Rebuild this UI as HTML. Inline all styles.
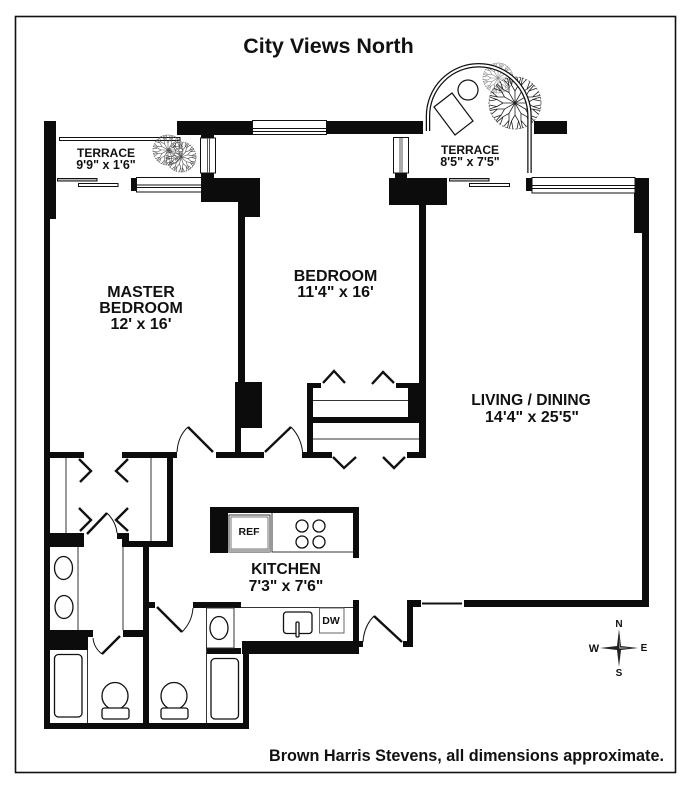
<!DOCTYPE html>
<html><head><meta charset="utf-8"><style>
html,body{margin:0;padding:0;background:#fff}
svg{display:block}
text{font-family:"Liberation Sans",sans-serif;font-weight:bold;fill:#111;text-anchor:middle}
</style></head><body>
<svg width="694" height="795" viewBox="0 0 694 795" xmlns="http://www.w3.org/2000/svg">
<defs>
<path id="sp" d="M0 0L0 -12L-3.500 -18L-6 -25.500M-3.500 -18L-2 -26M0 -12L3.500 -18L2 -26M3.500 -18L6 -25.500"/>
<g id="tree">
<use href="#sp"/><use href="#sp" transform="rotate(30)"/><use href="#sp" transform="rotate(60)"/><use href="#sp" transform="rotate(90)"/><use href="#sp" transform="rotate(120)"/><use href="#sp" transform="rotate(150)"/><use href="#sp" transform="rotate(180)"/><use href="#sp" transform="rotate(210)"/><use href="#sp" transform="rotate(240)"/><use href="#sp" transform="rotate(270)"/><use href="#sp" transform="rotate(300)"/><use href="#sp" transform="rotate(330)"/>
</g>
</defs>
<rect x="0" y="0" width="694" height="795" fill="#fff"/>
<rect x="15.5" y="16.5" width="660" height="756" fill="none" stroke="#111" stroke-width="1.600"/>
<text x="328.500" y="53" font-size="21.500">City Views North</text>

<!-- solid walls -->
<g fill="#0c0c0c">
<path d="M44 121H56V219H50V723H243V654H241V648H206V654H241V608H193V602H241V654H359V600H353V641H242V654H249V729H44Z"/>
<rect x="177" y="121" width="76" height="14"/>
<rect x="326" y="121" width="97" height="13"/>
<rect x="201" y="134" width="13" height="5"/>
<rect x="534" y="121" width="33" height="13"/>
<rect x="395" y="172" width="12" height="7"/>
<path d="M201 172H214V178H260V217H245V382H262V428H241V452H264V458H216V452H235V428H235V382H238V217H238V202H201Z"/>
<rect x="131" y="178" width="6" height="13"/>
<path d="M389 178H447V205H426V458H407V452H419V423H313V452H332V458H302V452H307V383H321V388H313V417H408V388H396V383H419V205H389Z"/>
<rect x="526" y="178" width="6" height="13"/>
<path d="M634 178H649V607H464V600H642V233H634Z"/>
<path d="M407 600H421V607H413V647H403V641H407Z"/>
<rect x="353" y="641" width="10" height="6"/>
<path d="M50 452H84V458H50Z"/>
<path d="M122 452H177V458H173V547H122V533H117V539H129V541H167V458H122Z"/>
<rect x="50" y="533" width="34" height="14"/>
<path d="M143 547H149V723H143Z"/>
<rect x="149" y="602" width="6" height="6"/>
<path d="M50 630H93V637H88V650H50Z"/>
<rect x="123" y="630" width="20" height="7"/>
<rect x="210" y="507" width="149" height="6"/>
<rect x="210" y="507" width="18" height="46"/>
<rect x="353" y="507" width="6" height="51"/>
<rect x="117" y="533" width="12" height="6"/>
<rect x="122" y="533" width="7" height="14"/>
</g>

<!-- windows -->
<g fill="#fff" stroke="#111" stroke-width="1">
<rect x="252.500" y="120.500" width="74" height="14" />
<rect x="200.500" y="138" width="15" height="35"/>
<rect x="393.500" y="137.500" width="15" height="35.500"/>
<rect x="136.500" y="177.500" width="65" height="14.500"/>
<rect x="532" y="177.500" width="103" height="15.500"/>
<rect x="59.500" y="137.500" width="120.500" height="3" />
<rect x="57.500" y="178.500" width="39.500" height="2.500" fill="#bbb"/>
<rect x="78.500" y="183.500" width="39.500" height="3"/>
<rect x="449.500" y="178.500" width="39.500" height="2.500" fill="#bbb"/>
<rect x="469.500" y="183.500" width="40" height="3"/>
</g>
<g stroke="#111" stroke-width="1" fill="none">
<path d="M253 128.500H326M253 131.500H326"/>
<path d="M207.500 138V173M209.500 138V173" stroke="#555"/>
<path d="M400 138V173M402 138V173" stroke="#555"/>
<path d="M137 185H201M137 187.500H201"/>
<path d="M532 185.500H635M532 188.500H635"/>
</g>

<!-- trees -->
<g fill="none">
<g stroke="#555" stroke-width="1"><use href="#tree" transform="translate(168 150) scale(.58)"/></g>
<g stroke="#444" stroke-width="1"><use href="#tree" transform="translate(181 157) scale(.58) rotate(12)"/></g>
<g stroke="#888" stroke-width="1"><use href="#tree" transform="translate(498 78) scale(.58)"/></g>
<circle cx="168" cy="150" r="15" stroke="#777" stroke-width=".8" stroke-dasharray="1.500 1"/>
<circle cx="181" cy="157" r="15" stroke="#666" stroke-width=".8" stroke-dasharray="1.500 1"/>
<circle cx="498" cy="78" r="15" stroke="#888" stroke-width=".7" stroke-dasharray="1.500 1"/>
<g stroke="#222" stroke-width=".8"><use href="#tree" transform="translate(515 103)"/></g>
<circle cx="515" cy="103" r="26" stroke="#666" stroke-width=".9" stroke-dasharray="2 1.500"/>
</g>

<!-- arch terrace -->
<path d="M428 131V116A50.500 50.500 0 0 1 529.500 116V173" fill="none" stroke="#111" stroke-width="4.500"/>
<path d="M428 131V116A50.500 50.500 0 0 1 529.500 116V173" fill="none" stroke="#fff" stroke-width="2"/>
<path d="M434 107L452 93L473 121L455 135Z" fill="#fff" stroke="#111" stroke-width="1.200"/>
<circle cx="468" cy="90" r="10" fill="#fff" stroke="#111" stroke-width="1.200"/>

<!-- doors and chevrons -->
<g fill="none" stroke="#111" stroke-width="2.400">
<path d="M213 452L188 427"/>
<path d="M265 452L291 427"/>
<path d="M402 642L374 616"/>
<path d="M87 534L107 513"/>
<path d="M120 636L102 654"/>
<path d="M157 607L182 632"/>
<path d="M79 459L91 471L80 482M128 459L116 471L128 482M79 508L91 520L80 531M128 508L116 520L128 531"/>
<path d="M323 383L334 371L345 383M372 384L383 372L394 383M333 457L344 468L356 457M383 457L394 468L405 457"/>
</g>
<g fill="none" stroke="#111" stroke-width="1">
<path d="M177 452Q178 436 188 427"/>
<path d="M303 456Q302 438 291 427"/>
<path d="M363 642Q364 626 374 616"/>
<path d="M117 533Q116 522 107 513"/>
<path d="M93 638Q94 648 102 654"/>
<path d="M193 608Q192 622 182 632"/>
</g>

<!-- thin lines -->
<g fill="none" stroke="#333" stroke-width="1">
<path d="M66 458V533M151 458V541"/>
<path d="M313 400.500H408M313 439H419"/>
<path d="M78 547V630M123 547V630"/>
<path d="M87.500 650V723M206.500 608V723"/>
<path d="M206 608H234V648H206"/>
<path d="M241 607.500H353"/>
<path d="M272 513V552H353"/>
<path d="M229 515H270V552H229Z"/>
<path d="M231 517H268V549H231Z" stroke="#777"/>
</g>
<rect x="229" y="549" width="41" height="3" fill="#aaa"/>
<rect x="422" y="602.500" width="40" height="2" fill="#111"/>

<!-- fixtures -->
<g fill="#fff" stroke="#111" stroke-width="1.300">
<ellipse cx="63.500" cy="568" rx="9" ry="11.500"/>
<ellipse cx="64" cy="607" rx="9" ry="11.500"/>
<ellipse cx="219" cy="628" rx="9" ry="11.500"/>
<rect x="54.500" y="654.500" width="27.500" height="62.500" rx="4"/>
<rect x="211" y="658.500" width="27.500" height="60.500" rx="4"/>
<ellipse cx="115" cy="696" rx="13" ry="13.500"/>
<rect x="102" y="708" width="27" height="11" rx="2.500"/>
<ellipse cx="174" cy="696" rx="13" ry="13.500"/>
<rect x="161" y="708" width="27" height="11" rx="2.500"/>
<circle cx="302" cy="526" r="6"/>
<circle cx="319" cy="526" r="6"/>
<circle cx="302" cy="542" r="6"/>
<circle cx="319" cy="542" r="6"/>
<rect x="283.500" y="612" width="28.500" height="21.500" rx="3"/>
<rect x="296" y="622" width="3" height="15" rx="1.200"/>
<rect x="319.500" y="608" width="24.500" height="25" stroke="#666" stroke-width="1"/>
</g>

<!-- labels -->
<text x="106" y="157" font-size="12">TERRACE</text>
<text x="106" y="169" font-size="12.500">9'9" x 1'6"</text>
<text x="470" y="154" font-size="12">TERRACE</text>
<text x="470" y="166" font-size="12.500">8'5" x 7'5"</text>
<text x="141" y="297" font-size="16">MASTER</text>
<text x="141" y="313" font-size="16">BEDROOM</text>
<text x="141" y="329" font-size="16">12' x 16'</text>
<text x="335.500" y="281" font-size="16">BEDROOM</text>
<text x="335.500" y="297" font-size="16">11'4" x 16'</text>
<text x="531" y="405" font-size="15.600">LIVING / DINING</text>
<text x="532" y="422" font-size="16">14'4" x 25'5"</text>
<text x="286" y="574" font-size="15.700">KITCHEN</text>
<text x="286" y="591" font-size="15.700">7'3" x 7'6"</text>
<text x="249" y="535" font-size="10.500">REF</text>
<text x="331" y="624" font-size="10.500">DW</text>
<text x="466.500" y="761" font-size="16.200">Brown Harris Stevens, all dimensions approximate.</text>

<!-- compass -->
<path d="M619 629L621 646L638 648L621 650L619 667L617 650L600 648L617 646Z" fill="#222"/>
<path d="M619 636L620 647L630 648L620 649L619 648Z" fill="#888"/>
<text x="619" y="627" font-size="10">N</text>
<text x="594" y="652" font-size="11">W</text>
<text x="644" y="651" font-size="10">E</text>
<text x="619" y="676" font-size="10">S</text>
</svg>
</body></html>
